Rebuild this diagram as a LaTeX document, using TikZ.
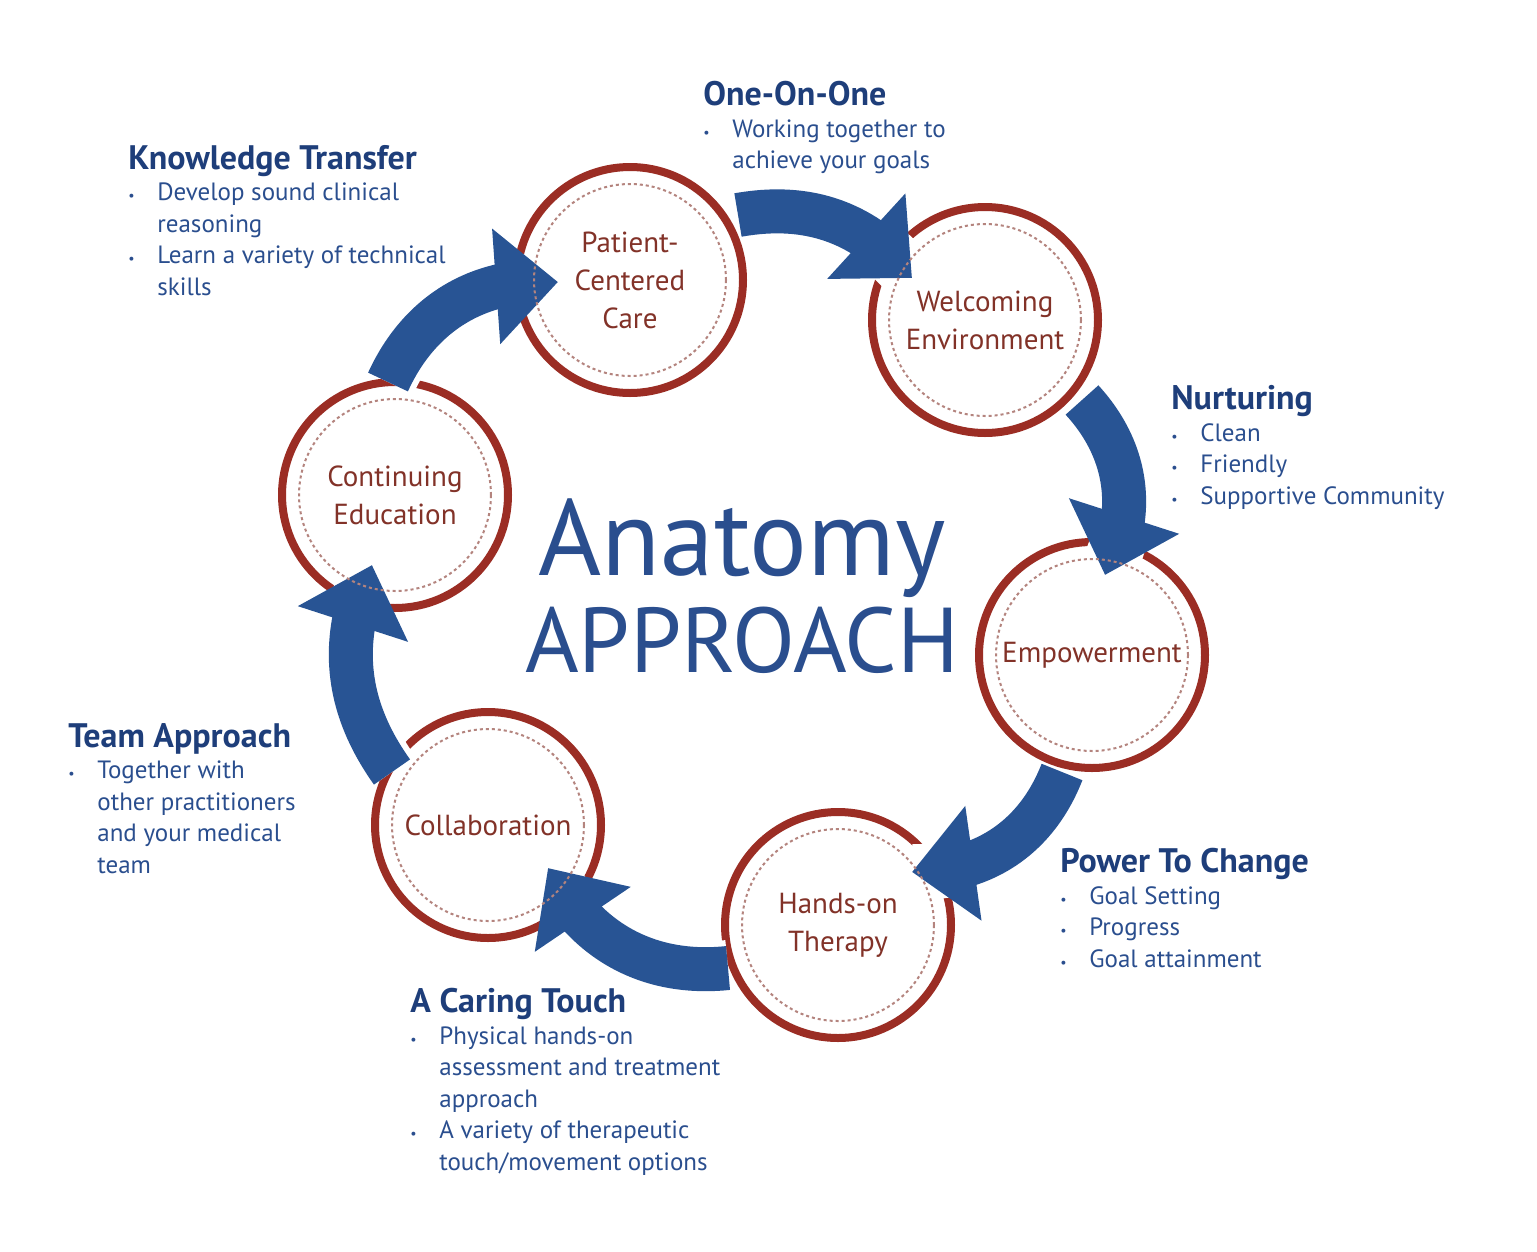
\documentclass[tikz,border=0pt]{standalone}
\usepackage{fontspec}
\setmainfont{PT Sans}
\usetikzlibrary{arrows.meta,bending}
\definecolor{ringred}{RGB}{155,45,36}
\definecolor{darkred}{RGB}{130,50,40}
\definecolor{arrowblue}{RGB}{40,84,148}
\definecolor{headblue}{RGB}{30,62,122}
\definecolor{textblue}{RGB}{42,78,142}
\newcommand{\hd}[1]{{\fontsize{34}{38}\selectfont\bfseries\color{headblue}#1}}
\newcommand{\bul}{\makebox[29pt][l]{\fontsize{14}{14}\selectfont\textbullet}}
\newcommand{\ind}{\hspace*{29pt}}
\tikzset{every picture/.style={line width=0.75pt}}
\begin{document}
\begin{tikzpicture}[x=1pt,y=-1pt,
  stage/.style={circle,draw=ringred,line width=8pt,fill=white,minimum size=226pt,
    align=center,text=darkred,font=\fontsize{29}{38}\selectfont},
  dots/.style={circle,draw=darkred!60,dash pattern=on 3pt off 3pt,line width=2pt,minimum size=192pt},
  flow/.style={arrowblue,line width=44pt,
    -{Triangle[length=62pt 0,width=112pt 0,flex]},
    preaction={draw=white,line width=56pt,-}},
  info/.style={anchor=north west,align=left,text=textblue,inner sep=0pt,
    font=\fontsize{25}{31.5}\selectfont}]
\useasboundingbox (0,0) rectangle (1537,1251);

%circles
\node[stage] (care) at (630,280) {Patient-\\Centered\\Care};
\node[stage] (welcome) at (985,320) {Welcoming\\Environment};
\node[stage] (power) at (1092,655) {Empowerment};
\node[stage] (hands) at (838,925) {Hands-on\\Therapy};
\node[stage] (collab) at (488,825) {Collaboration};
\node[stage] (educ) at (395,495) {Continuing\\Education};

%arrow ends
\coordinate (a1) at (738,215); \coordinate (b1) at (912,278);
\coordinate (a2) at (1082,400); \coordinate (b2) at (1105,575);
\coordinate (a3) at (1062,772); \coordinate (b3) at (912,872);
\coordinate (a4) at (728,968); \coordinate (b4) at (548,868);
\coordinate (a5) at (392,772); \coordinate (b5) at (372,565);
\coordinate (a6) at (388,382); \coordinate (b6) at (558,282);

\draw[flow] (a1) to[bend left=30] (b1);
\draw[flow] (a2) to[bend left=35] (b2);
\draw[flow] (a3) to[bend left=35] (b3);
\draw[flow] (a4) to[bend left=35] (b4);
\draw[flow] (a5) to[bend left=30] (b5);
\draw[flow] (a6) to[bend left=35] (b6);

%dotted inner rings
\foreach \n in {care,welcome,power,hands,collab,educ}
  \node[dots] at (\n) {};

%title
\node[text=textblue,font=\fontsize{108}{108}\selectfont] (anat) at (742,548) {Anatomy};
\node[text=textblue,font=\fontsize{92}{92}\selectfont] (appr) at (742,640) {APPROACH};

%texts
\node[info] (know) at (128,145) {\hd{Knowledge Transfer}\\\bul Develop sound clinical\\\ind reasoning\\\bul Learn a variety of technical\\\ind skills};
\node[info] (one) at (703,81) {\hd{One-On-One}\\\bul Working together to\\\ind achieve your goals};
\node[info] (nurt) at (1171,385) {\hd{Nurturing}\\\bul Clean\\\bul Friendly\\\bul Supportive Community};
\node[info] (chg) at (1060,848) {\hd{Power To Change}\\\bul Goal Setting\\\bul Progress\\\bul Goal attainment};
\node[info] (touch) at (410,988) {\hd{A Caring Touch}\\\bul Physical hands-on\\\ind assessment and treatment\\\ind approach\\\bul A variety of therapeutic\\\ind touch/movement options};
\node[info] (team) at (68,723) {\hd{Team Approach}\\\bul Together with\\\ind other practitioners\\\ind and your medical\\\ind team};
\end{tikzpicture}
\end{document}
